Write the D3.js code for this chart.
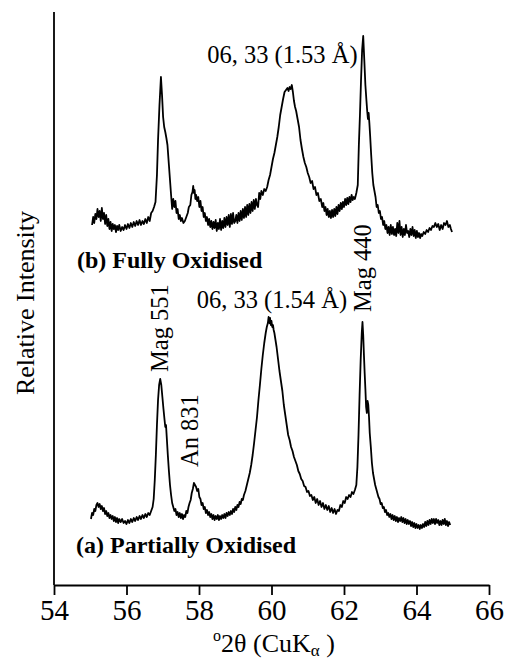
<!DOCTYPE html>
<html>
<head>
<meta charset="utf-8">
<script src="https://cdn.jsdelivr.net/npm/d3@7"></script>
<style>
  body { margin: 0; background: #fff; }
  svg { display: block; }
  svg text { font-family: "Liberation Serif", "Times New Roman", serif; fill: #000; }
</style>
</head>
<body>
<div id="container"></div>
<script>
//XRD patterns, two stacked traces (b drawn above a)
//[2theta, relative intensity (arbitrary units)]

var xTicks = [54, 56, 58, 60, 62, 64, 66];

//(b) fully oxidised
var traceB = [[55.05,360],[55.08,368],[55.11,362],[55.14,371],[55.17,366],[55.20,376],[55.23,368],[55.26,374],[55.29,364],[55.32,377],[55.35,366],[55.38,372],[55.41,361],[55.44,370],[55.47,359],[55.50,366],[55.53,356],[55.56,363],[55.59,354],[55.62,361],[55.65,356],[55.68,360],[55.71,353],[55.74,359],[55.77,355],[55.80,360],[55.84,354],[55.88,358],[55.92,355],[55.96,360],[56.00,356],[56.04,361],[56.08,357],[56.12,362],[56.16,358],[56.20,363],[56.24,359],[56.28,364],[56.32,360],[56.36,365],[56.40,360],[56.44,364],[56.48,361],[56.52,366],[56.56,362],[56.60,368],[56.64,364],[56.68,372],[56.72,374],[56.76,378],[56.80,383],
    [56.84,410],[56.87,445],[56.91,480],[56.95,508],[56.98,490],[57.01,468],[57.04,458],[57.07,453],[57.10,447],[57.13,440],[57.17,420],[57.20,405],[57.23,390],[57.26,376],[57.29,386],[57.32,378],[57.35,384],[57.38,372],[57.41,376],[57.44,366],[57.47,370],[57.50,364],[57.53,367],[57.57,362],[57.61,364],[57.65,368],[57.69,372],[57.72,378],[57.76,380],[57.79,390],[57.82,393],[57.84,399],[57.86,392],[57.88,395],[57.90,386],[57.92,390],[57.95,384],[57.98,388],[58.01,378],[58.04,384],[58.07,374],[58.10,378],[58.13,368],[58.16,372],[58.19,364],[58.22,368],[58.25,360],[58.28,366],[58.31,358],[58.34,364],[58.37,356],[58.40,363],[58.43,357],[58.46,365],[58.49,354],[58.52,362],[58.55,356],[58.58,366],[58.61,355],[58.64,364],[58.67,357],[58.70,367],[58.73,358],[58.76,368],[58.79,360],[58.82,370],[58.85,358],[58.88,371],[58.91,361],[58.94,372],[58.97,362],
    [59.00,364],[59.03,370],[59.06,362],[59.09,372],[59.12,364],[59.15,374],[59.18,365],[59.21,376],[59.24,367],[59.27,378],[59.30,368],[59.33,380],[59.36,370],[59.39,381],[59.42,372],[59.45,383],[59.48,374],[59.51,385],[59.54,376],[59.57,386],[59.60,380],[59.63,378],[59.66,392],[59.69,386],[59.72,394],[59.76,390],[59.80,396],[59.84,394],[59.88,398],[59.92,405],[59.96,410],[60.00,418],[60.04,426],[60.08,432],[60.12,440],[60.16,448],[60.20,458],[60.24,470],[60.28,478],[60.32,486],[60.36,493],[60.40,495],[60.44,497],[60.47,494],[60.50,498],[60.53,496],[60.56,500],[60.59,493],[60.62,484],[60.65,478],[60.68,474],[60.72,466],[60.76,458],[60.80,445],[60.84,436],[60.88,428],[60.92,422],[60.96,418],[61.00,412],[61.04,408],[61.08,402],[61.12,404],[61.16,396],[61.20,398],[61.24,390],[61.28,392],[61.32,384],[61.36,386],[61.40,378],[61.43,382],[61.46,374],[61.49,378],[61.52,370],[61.55,376],[61.58,368],[61.61,374],[61.64,367],[61.67,375],[61.70,368],[61.73,376],[61.76,369],[61.79,378],[61.82,371],[61.85,380],[61.88,374],[61.91,382],[61.94,376],[61.97,383],
    [62.00,378],[62.03,386],[62.06,380],[62.09,387],[62.12,381],[62.15,388],[62.18,383],[62.21,390],[62.24,385],[62.27,388],[62.30,386],[62.34,392],[62.38,400],[62.41,440],[62.44,470],[62.47,505],[62.50,535],[62.53,549],[62.56,525],[62.59,500],[62.62,484],[62.64,474],[62.66,466],[62.68,472],[62.70,462],[62.72,450],[62.75,430],[62.78,412],[62.81,400],[62.84,394],[62.87,388],[62.90,378],[62.93,380],[62.96,372],[62.99,374],[63.02,366],[63.05,368],[63.08,360],[63.11,364],[63.14,356],[63.17,360],[63.20,352],[63.23,358],[63.26,350],[63.29,360],[63.32,351],[63.35,358],[63.38,350],[63.41,356],[63.44,349],[63.47,362],[63.50,352],[63.53,364],[63.56,350],[63.59,358],[63.62,348],[63.65,356],[63.68,350],[63.71,360],[63.74,352],[63.77,354],[63.80,348],[63.83,356],[63.86,350],[63.89,358],[63.92,349],[63.95,355],[63.98,347],
    [64.01,354],[64.04,348],[64.07,352],[64.10,347],[64.13,351],[64.16,349],[64.20,353],[64.24,351],[64.28,355],[64.32,353],[64.36,357],[64.40,355],[64.44,359],[64.48,358],[64.52,362],[64.56,358],[64.60,361],[64.64,355],[64.68,360],[64.72,356],[64.76,362],[64.80,360],[64.84,364],[64.88,358],[64.92,360],[64.95,356],[64.98,353]];

//(a) partially oxidised
var traceA = [[55.02,66],[55.05,72],[55.08,70],[55.11,76],[55.14,74],[55.17,80],[55.20,82],[55.23,78],[55.26,81],[55.29,76],[55.32,79],[55.35,74],[55.38,77],[55.41,71],[55.44,74],[55.47,69],[55.50,72],[55.53,67],[55.56,70],[55.59,66],[55.62,69],[55.65,64],[55.68,68],[55.71,63],[55.74,67],[55.77,62],[55.80,66],[55.84,63],[55.88,66],[55.92,62],[55.96,64],[56.00,61],[56.04,65],[56.08,62],[56.12,66],[56.16,63],[56.20,67],[56.24,64],[56.28,68],[56.32,65],[56.36,69],[56.40,66],[56.44,70],[56.48,67],[56.52,71],[56.56,68],[56.60,72],[56.64,70],[56.68,74],[56.72,78],
    [56.75,86],[56.78,105],[56.81,130],[56.84,160],[56.87,185],[56.90,200],[56.93,206],[56.96,200],[56.99,188],[57.02,176],[57.05,165],[57.07,158],[57.09,160],[57.11,148],[57.14,130],[57.17,114],[57.20,100],[57.23,90],[57.26,82],[57.29,78],[57.32,74],[57.35,76],[57.38,70],[57.41,73],[57.44,68],[57.47,72],[57.50,67],[57.53,71],[57.56,66],[57.59,70],[57.62,68],[57.65,74],[57.68,72],[57.71,78],[57.74,82],[57.77,85],[57.80,92],[57.83,96],[57.86,102],[57.89,100],[57.92,98],[57.95,94],[57.98,96],[58.01,88],[58.04,86],[58.07,80],[58.10,82],[58.13,76],[58.16,78],[58.19,72],[58.22,75],[58.25,70],[58.28,73],[58.31,68],[58.34,71],[58.37,66],[58.40,70],[58.43,65],[58.46,69],[58.49,66],[58.52,70],[58.55,65],[58.58,69],[58.61,66],[58.64,70],[58.67,67],[58.70,71],[58.73,67],[58.76,72],[58.79,69],[58.82,73],[58.85,70],[58.88,74],[58.91,71],[58.94,76],[58.97,73],
    [59.00,78],[59.03,75],[59.06,80],[59.09,78],[59.12,83],[59.15,81],[59.18,86],[59.21,85],[59.24,90],[59.28,94],[59.32,100],[59.36,106],[59.40,112],[59.44,120],[59.48,130],[59.52,142],[59.56,155],[59.60,168],[59.64,185],[59.68,200],[59.72,216],[59.76,230],[59.80,242],[59.84,252],[59.87,258],[59.90,262],[59.92,268],[59.94,262],[59.96,267],[59.98,260],[60.00,264],[60.02,258],[60.04,260],[60.06,255],[60.08,252],[60.11,245],[60.14,238],[60.18,226],[60.22,214],[60.26,204],[60.30,194],[60.34,180],[60.38,170],[60.42,160],[60.46,150],[60.50,145],[60.54,138],[60.58,134],[60.62,128],[60.66,124],[60.70,120],[60.74,114],[60.78,111],[60.82,106],[60.86,104],[60.90,99],[60.94,98],[60.98,93],[61.02,94],[61.06,89],[61.10,90],[61.14,85],[61.18,88],[61.22,82],[61.26,86],[61.30,80],[61.34,84],[61.38,78],[61.42,82],[61.46,76],[61.50,80],[61.54,75],[61.58,79],[61.62,73],[61.66,77],[61.70,72],[61.74,76],[61.78,71],[61.82,75],[61.86,74],[61.90,80],[61.94,78],[61.98,84],
    [62.02,82],[62.06,88],[62.10,86],[62.14,90],[62.18,88],[62.22,93],[62.26,91],[62.30,95],[62.34,100],[62.37,118],[62.40,150],[62.43,190],[62.46,225],[62.49,252],[62.51,263],[62.53,250],[62.55,230],[62.57,212],[62.59,196],[62.61,178],[62.63,172],[62.65,184],[62.67,180],[62.69,168],[62.71,152],[62.74,138],[62.77,122],[62.80,112],[62.83,106],[62.86,100],[62.89,96],[62.92,92],[62.95,88],[62.98,86],[63.01,81],[63.04,82],[63.07,77],[63.10,78],[63.13,73],[63.16,75],[63.19,70],[63.22,72],[63.25,68],[63.28,71],[63.31,66],[63.34,70],[63.37,65],[63.40,69],[63.43,64],[63.46,68],[63.49,63],[63.52,67],[63.55,64],[63.58,68],[63.61,63],[63.64,67],[63.67,62],[63.70,66],[63.73,61],[63.76,65],[63.79,61],[63.82,64],[63.85,59],[63.88,63],[63.91,58],[63.94,62],[63.97,57],
    [64.00,61],[64.03,57],[64.06,60],[64.09,56],[64.12,60],[64.15,57],[64.18,61],[64.21,58],[64.24,63],[64.27,59],[64.30,64],[64.33,60],[64.36,65],[64.39,61],[64.42,66],[64.45,62],[64.48,66],[64.51,61],[64.54,66],[64.57,62],[64.60,65],[64.63,60],[64.66,64],[64.69,60],[64.72,65],[64.75,61],[64.78,66],[64.81,60],[64.84,64],[64.87,59],[64.90,63],[64.93,60]];

//annotation labels, anchored in data units
var peakLabels = [
    {text: "Mag 551", theta: 57.15, inten: 213, rot: true},
    {text: "An 831", theta: 57.98, inten: 118, rot: true},
    {text: "Mag 440", theta: 62.75, inten: 273, rot: true},
    {text: "06, 33 (1.54 Å)", theta: 60.01, inten: 277, rot: false},
    {text: "06, 33 (1.53 Å)", theta: 60.30, inten: 522, rot: false}
];

var width = 506,
    height = 662;

var svg = d3.select("#container")
    .append("svg")
    .attr("width", width)
    .attr("height", height);

//scales
var x = d3.scaleLinear()
    .domain([54, 66])
    .range([54, 489]);

var y = d3.scaleLinear()
    .domain([0, 573])
    .range([585, 12]);

var line = d3.line()
    .x(function(d){ return x(d[0]); })
    .y(function(d){ return y(d[1]); });

//traces
[traceA, traceB].forEach(function(s){
    svg.append("path")
        .datum(s)
        .attr("fill", "none")
        .attr("stroke", "#000")
        .attr("stroke-width", 1.8)
        .attr("stroke-linejoin", "round")
        .attr("d", line);
});

//x axis
var xAxis = d3.axisBottom(x)
    .tickValues(xTicks)
    .tickSize(10)
    .tickSizeOuter(0)
    .tickPadding(4);

var gx = svg.append("g")
    .attr("transform", "translate(0," + y(0) + ")")
    .call(xAxis);
gx.select(".domain").attr("stroke-width", 1.8);
gx.selectAll(".tick line").attr("stroke-width", 1.8);
gx.selectAll(".tick text")
    .style("font-family", "'Liberation Serif', serif")
    .style("font-size", "29px")
    .attr("fill", "#000");

//y axis, plain line with no ticks
svg.append("line")
    .attr("x1", x(54)).attr("x2", x(54))
    .attr("y1", y(573)).attr("y2", y(0))
    .attr("stroke", "#000")
    .attr("stroke-width", 1.8);

//axis titles
var xTitle = svg.append("text")
    .attr("x", 274)
    .attr("y", 652)
    .attr("text-anchor", "middle")
    .attr("font-size", 26);
xTitle.append("tspan").attr("font-size", 16).attr("dy", -11).text("o");
xTitle.append("tspan").attr("dy", 11).text("2θ (CuK");
xTitle.append("tspan").attr("font-size", 17).attr("dy", 4).text("α");
xTitle.append("tspan").attr("dy", -4).text(" )");

svg.append("text")
    .attr("transform", "translate(34,303) rotate(-90)")
    .attr("text-anchor", "middle")
    .attr("font-size", 26)
    .text("Relative Intensity");

//series titles
svg.append("text")
    .attr("x", 77).attr("y", 268)
    .attr("font-weight", "bold")
    .attr("font-size", 24)
    .text("(b) Fully Oxidised");

svg.append("text")
    .attr("x", 76).attr("y", 553)
    .attr("font-weight", "bold")
    .attr("font-size", 24)
    .text("(a) Partially Oxidised");

//peak labels
svg.selectAll(".peak")
    .data(peakLabels)
    .enter()
    .append("text")
    .attr("class", "peak")
    .attr("font-size", 24.5)
    .attr("text-anchor", function(d){ return d.rot ? "start" : "middle"; })
    .attr("transform", function(d){
        var px = x(d.theta), py = y(d.inten);
        return d.rot ? "translate(" + px + "," + py + ") rotate(-90)" : "translate(" + px + "," + py + ")";
    })
    .text(function(d){ return d.text; });
</script>
</body>
</html>
